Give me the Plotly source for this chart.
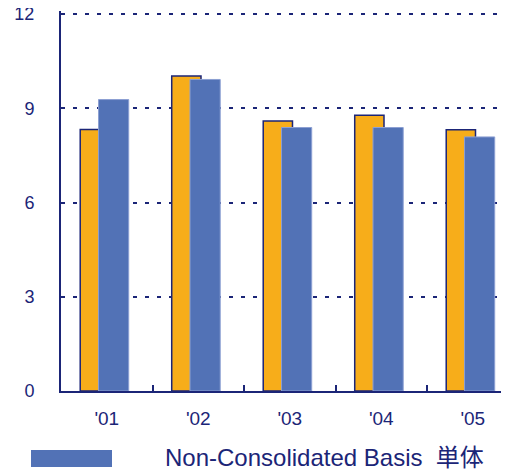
import plotly.graph_objects as go

years = ["'01", "'02", "'03", "'04", "'05"]
consolidated = [8.33, 10.03, 8.6, 8.78, 8.32]
non_consolidated = [9.28, 9.92, 8.39, 8.39, 8.09]
y_ticks = [0, 3, 6, 9, 12]
legend_label = "Non-Consolidated Basis  単体"

NAVY = "#1b2577"
ORANGE = "#F7AD1A"
BLUE = "#5272B6"
FONT = "Liberation Sans, Arial, Noto Sans CJK JP, sans-serif"

# page body has an 8px margin: figure sits at (8, 8)
OX, OY = 8, 8
UNIT = 377 / 12.0
YMAX = 12.1
L, B = 61 - OX, 391 - OY
T = B - YMAX * UNIT
W, H = 509 - OX, 470 - OY
PW, PH = W - L, B - T

fig = go.Figure()
fig.add_trace(go.Bar(
    x=years, y=consolidated, offset=-0.29, width=0.32,
    marker=dict(color=ORANGE, line=dict(color=NAVY, width=1.5)),
    showlegend=False,
))
fig.add_trace(go.Bar(
    x=years, y=non_consolidated, offset=-0.09, width=0.33,
    marker=dict(color=BLUE, line=dict(color="#8c9fd2", width=1)),
    name=legend_label, showlegend=False,
))

fig.update_layout(
    width=W, height=H,
    margin=dict(l=L, r=0, t=T, b=H - B, autoexpand=False),
    barmode="overlay",
    plot_bgcolor="white", paper_bgcolor="white",
    font=dict(family=FONT, color=NAVY, size=18),
    xaxis=dict(
        type="category", range=[-0.5, -0.5 + PW / 91.5], automargin=False,
        showline=True, linecolor=NAVY, linewidth=2,
        tickson="boundaries", ticks="inside", ticklen=6, tickwidth=1.5, tickcolor=NAVY,
        showgrid=False, ticklabelstandoff=9,
        tickfont=dict(size=19, color=NAVY),
    ),
    yaxis=dict(
        range=[0, YMAX], tickvals=y_ticks, automargin=False,
        showline=True, linecolor=NAVY, linewidth=2,
        showgrid=True, gridcolor=NAVY, gridwidth=1.5, griddash="4px,8px",
        zeroline=False, ticks="", ticklabelstandoff=21,
        ticklabeloverflow="allow",
        tickfont=dict(size=18, color=NAVY),
    ),
    shapes=[dict(type="rect", xref="paper", yref="paper",
                 x0=(31 - 61) / PW, x1=(112 - 61) / PW,
                 y0=-(450 - 391) / PH, y1=-(467 - 391) / PH,
                 fillcolor=BLUE, line=dict(width=0))],
    annotations=[dict(text=legend_label, xref="paper", yref="paper",
                      x=(163 - 61) / PW, y=-(458 - 391) / PH,
                      xanchor="left", yanchor="middle", showarrow=False,
                      font=dict(size=24, color=NAVY, family=FONT))],
)

fig.write_html("out.html")
